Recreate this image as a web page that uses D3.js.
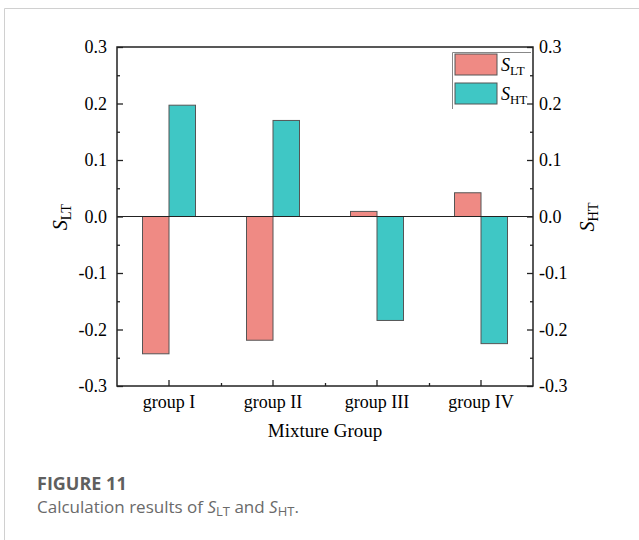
<!DOCTYPE html>
<html><head><meta charset="utf-8">
<script src="https://cdn.jsdelivr.net/npm/d3@7"></script>
<style>body{margin:0;background:#fff}svg{display:block}</style>
</head><body>
<script>
const groups = ["group I","group II","group III","group IV"];
const sLT = [-0.243,-0.219,0.009,0.042];
const sHT = [0.197,0.170,-0.184,-0.225];
const yTicks = [-0.3,-0.2,-0.1,0.0,0.1,0.2,0.3];
const seriesNames = ["LT","HT"];
const colors = ["#ef8a84","#3fc7c5"];

const W=639,H=540;
const svg=d3.select("body").append("svg").attr("width",W).attr("height",H);
const serif="Liberation Serif, Times New Roman, serif";
// frame
svg.append("line").attr("x1",4.5).attr("x2",W).attr("y1",8.5).attr("y2",8.5).attr("stroke","#d0d0d0");
svg.append("line").attr("x1",4.5).attr("x2",4.5).attr("y1",8.5).attr("y2",H).attr("stroke","#d0d0d0");

const L=117,R=533,T=47,B=386;
const x=d3.scaleBand().domain(groups).range([L,R]);
const y=d3.scaleLinear().domain([-0.3,0.3]).range([B,T]);
const bw=26.5;

const g=svg.append("g");
const data=groups.map((gname,i)=>({g:gname,v:[sLT[i],sHT[i]]}));
data.forEach(d=>{
  d.v.forEach((v,j)=>{
    const cx=x(d.g)+x.bandwidth()/2;
    g.append("rect")
      .attr("x",j===0?cx-bw:cx).attr("width",bw)
      .attr("y",y(Math.max(0,v))).attr("height",Math.abs(y(v)-y(0)))
      .attr("fill",colors[j]).attr("stroke","#555").attr("stroke-width",1);
  });
});
g.append("line").attr("x1",L).attr("x2",R).attr("y1",y(0)).attr("y2",y(0)).attr("stroke","#222").attr("stroke-width",1.2);

const minor=d3.range(-0.25,0.3,0.1);
svg.append("g").attr("transform",`translate(${L},0)`).call(d3.axisRight(y).tickValues(yTicks).tickSize(6).tickFormat(""));
svg.append("g").attr("transform",`translate(${R},0)`).call(d3.axisLeft(y).tickValues(yTicks).tickSize(6).tickFormat(""));
svg.append("g").attr("transform",`translate(${L},0)`).call(d3.axisRight(y).tickValues(minor).tickSize(3).tickFormat(""));
svg.append("g").attr("transform",`translate(${R},0)`).call(d3.axisLeft(y).tickValues(minor).tickSize(3).tickFormat(""));
svg.append("g").attr("transform",`translate(0,${B})`).call(d3.axisTop(x).tickSize(6).tickFormat(""));
const xm=d3.scaleLinear().domain([0,4]).range([L,R]);
svg.append("g").attr("transform",`translate(0,${B})`).call(d3.axisTop(xm).tickValues([1,2,3]).tickSize(3).tickFormat(""));
svg.selectAll(".domain").remove();
svg.selectAll(".tick line").attr("stroke","#222").attr("stroke-width",1.3);
svg.append("rect").attr("x",L).attr("y",T).attr("width",R-L).attr("height",B-T).attr("fill","none").attr("stroke","#222").attr("stroke-width",1.5);

const fmt=t=>t.toFixed(1);
yTicks.forEach(t=>{
  svg.append("text").attr("x",L-10).attr("y",y(t)).attr("dy","0.35em").attr("text-anchor","end")
    .style("font-family",serif).attr("font-size",18).attr("fill","#000").text(fmt(t));
  svg.append("text").attr("x",R+6).attr("y",y(t)).attr("dy","0.35em").attr("text-anchor","start")
    .style("font-family",serif).attr("font-size",18).attr("fill","#000").text(fmt(t));
});
groups.forEach(gname=>{
  svg.append("text").attr("x",x(gname)+x.bandwidth()/2).attr("y",408).attr("text-anchor","middle")
    .style("font-family",serif).attr("font-size",18).attr("fill","#000").text(gname);
});
svg.append("text").attr("x",325).attr("y",437).attr("text-anchor","middle")
  .style("font-family",serif).attr("font-size",19).attr("fill","#000").text("Mixture Group");

function sLabel(sel,sub,size){
  sel.append("tspan").attr("font-style","italic").text("S");
  sel.append("tspan").attr("font-size",size*0.72).attr("dy",size*0.22).text(sub);
}
const ylab=svg.append("text").attr("transform",`translate(67,217) rotate(-90)`).attr("text-anchor","middle")
  .style("font-family",serif).attr("font-size",20).attr("fill","#000");
sLabel(ylab,"LT",20);
const yrlab=svg.append("text").attr("transform",`translate(594,217) rotate(-90)`).attr("text-anchor","middle")
  .style("font-family",serif).attr("font-size",20).attr("fill","#000");
sLabel(yrlab,"HT",20);

svg.append("path").attr("d",`M452.5,109 V52.5 H531`).attr("fill","none").attr("stroke","#888").attr("stroke-width",1);
seriesNames.forEach((n,i)=>{
  const yy=54+i*29;
  svg.append("rect").attr("x",455).attr("y",yy).attr("width",42).attr("height",21)
    .attr("fill",colors[i]).attr("stroke","#555");
  const t=svg.append("text").attr("x",501).attr("y",yy+17).style("font-family",serif).attr("font-size",18).attr("fill","#000");
  sLabel(t,n,18);
});

svg.append("text").attr("x",37).attr("y",490).style("font-family","Open Sans, sans-serif").attr("font-weight","bold")
  .attr("font-size",18).attr("fill","#5f5f5f").text("FIGURE 11");
const cap=svg.append("text").attr("x",37).attr("y",513).style("font-family","Open Sans, sans-serif")
  .attr("font-size",17).attr("fill","#6a6a6a");
cap.append("tspan").text("Calculation results of ");
cap.append("tspan").attr("font-style","italic").text("S");
cap.append("tspan").attr("font-size",13).attr("dy",3).text("LT");
cap.append("tspan").attr("dy",-3).text(" and ");
cap.append("tspan").attr("font-style","italic").text("S");
cap.append("tspan").attr("font-size",13).attr("dy",3).text("HT");
cap.append("tspan").attr("dy",-3).text(".");
</script>
</body></html>
